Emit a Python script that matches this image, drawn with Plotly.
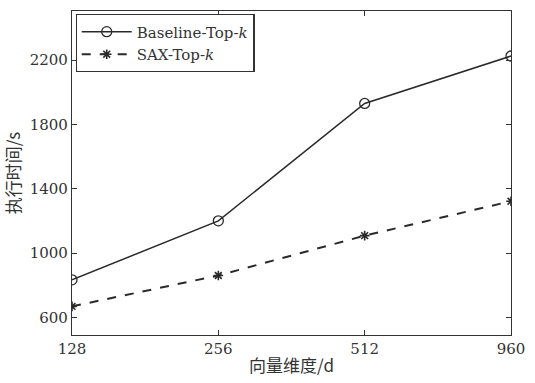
import plotly.graph_objects as go

# Vector dimensions (categorical x axis)
dims = ["128", "256", "512", "960"]
# Execution time (s)
baseline_topk = [833, 1200, 1930, 2225]
sax_topk = [668, 860, 1108, 1322]
y_ticks = [600, 1000, 1400, 1800, 2200]

serif = "DejaVu Serif, Liberation Serif, serif"
cjk = "Noto Sans CJK SC, sans-serif"

fig = go.Figure()
fig.add_trace(go.Scatter(
    x=dims, y=baseline_topk, mode="lines+markers",
    name="Baseline-Top-<i>k</i>",
    line=dict(color="#2a2a2a", width=1.5),
    marker=dict(symbol="circle-open", size=10, color="#2a2a2a", line=dict(width=1.3)),
))
fig.add_trace(go.Scatter(
    x=dims, y=sax_topk, mode="lines+markers",
    name="SAX-Top-<i>k</i>",
    line=dict(color="#2a2a2a", width=2, dash="dash"),
    marker=dict(symbol="asterisk-open", size=8, color="#2a2a2a", line=dict(width=1.6)),
))

fig.update_layout(
    width=535, height=383,
    margin=dict(l=72, r=17, t=10, b=47),
    paper_bgcolor="white", plot_bgcolor="white",
    font=dict(family=serif, size=15, color="#333"),
    showlegend=True,
    legend=dict(
        x=0.008, y=0.99, xanchor="left", yanchor="top",
        bgcolor="white", bordercolor="#333", borderwidth=1.2,
        font=dict(family=serif, size=15, color="#333"),
        tracegroupgap=0, itemwidth=50,
    ),
    xaxis=dict(
        type="category", range=[0, 3],
        showline=True, linecolor="#333", linewidth=1.2, mirror="ticks",
        ticks="inside", ticklen=5, tickcolor="#333",
        showgrid=False, zeroline=False,
        tickfont=dict(family=serif, size=15, color="#333"),
        title=dict(text="向量维度/d", font=dict(family=cjk, size=17, color="#333"), standoff=3),
    ),
    yaxis=dict(
        range=[490, 2505],
        tickvals=y_ticks,
        showline=True, linecolor="#333", linewidth=1.2, mirror="ticks",
        ticks="inside", ticklen=5, tickcolor="#333",
        showgrid=False, zeroline=False,
        tickfont=dict(family=serif, size=15, color="#333"),
        title=dict(text="执行时间/s", font=dict(family=cjk, size=17, color="#333"), standoff=6),
    ),
)

fig.write_html("out.html")
